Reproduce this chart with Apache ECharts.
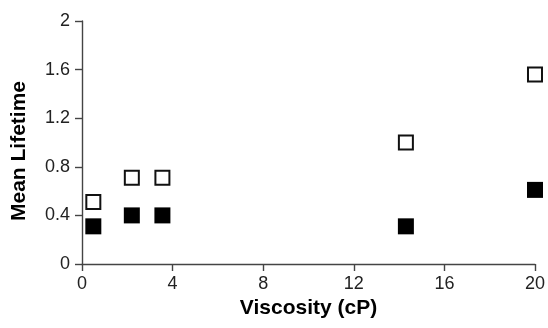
<!DOCTYPE html>
<html>
<head>
<meta charset="utf-8">
<script src="https://cdn.jsdelivr.net/npm/echarts@6/dist/echarts.min.js"></script>
<style>html,body{margin:0;padding:0;background:#fff;}#c{width:548px;height:328px;}</style>
</head>
<body>
<div id="c"></div>
<script>
const viscosity = [0.5, 2.2, 3.55, 14.3, 20];
const openLifetime = [0.51, 0.71, 0.71, 1.0, 1.56];
const filledLifetime = [0.31, 0.40, 0.40, 0.31, 0.61];
const xTicks = [0, 4, 8, 12, 16, 20];
const yTicks = [0, 0.4, 0.8, 1.2, 1.6, 2];

const chart = echarts.init(document.getElementById('c'), null, {renderer: 'canvas'});
const font = 'Liberation Sans, Arial, Helvetica, sans-serif';
chart.setOption({
  animation: false,
  backgroundColor: '#fff',
  grid: {left: 82, right: 6.5, top: 21, bottom: 64, containLabel: false},
  xAxis: {
    type: 'value', min: 0, max: 20, interval: 4,
    name: 'Viscosity (cP)', nameLocation: 'middle', nameGap: 33,
    nameTextStyle: {fontFamily: font, fontSize: 21, fontWeight: 'bold', color: '#000'},
    axisLine: {show: true, lineStyle: {color: '#444', width: 1.4}},
    axisTick: {show: true, length: 7, lineStyle: {color: '#444', width: 1.4}},
    axisLabel: {fontFamily: font, fontSize: 18, color: '#222', margin: 11, showMaxLabel: true,
      formatter: v => xTicks.includes(v) ? String(v) : ''},
    splitLine: {show: false}
  },
  yAxis: {
    type: 'value', min: 0, max: 2, interval: 0.4,
    name: 'Mean Lifetime', nameLocation: 'middle', nameGap: 52,
    nameTextStyle: {fontFamily: font, fontSize: 21, fontWeight: 'bold', color: '#000', padding: [0, 17, 0, 0]},
    axisLine: {show: true, lineStyle: {color: '#444', width: 1.4}},
    axisTick: {show: true, length: 7, lineStyle: {color: '#444', width: 1.4}},
    axisLabel: {fontFamily: font, fontSize: 18, color: '#222', margin: 12,
      formatter: v => { const t = yTicks.find(y => Math.abs(y - v) < 1e-9); return t === undefined ? '' : String(t); }},
    splitLine: {show: false}
  },
  series: [
    {
      type: 'scatter', name: 'open', symbol: 'rect', symbolSize: 14, clip: false,
      itemStyle: {color: '#fff', borderColor: '#111', borderWidth: 2, opacity: 1},
      data: viscosity.map((x, i) => [x, openLifetime[i]])
    },
    {
      type: 'scatter', name: 'filled', symbol: 'rect', symbolSize: 16, clip: false,
      itemStyle: {color: '#000', opacity: 1},
      data: viscosity.map((x, i) => [x, filledLifetime[i]])
    }
  ]
});
</script>
</body>
</html>
